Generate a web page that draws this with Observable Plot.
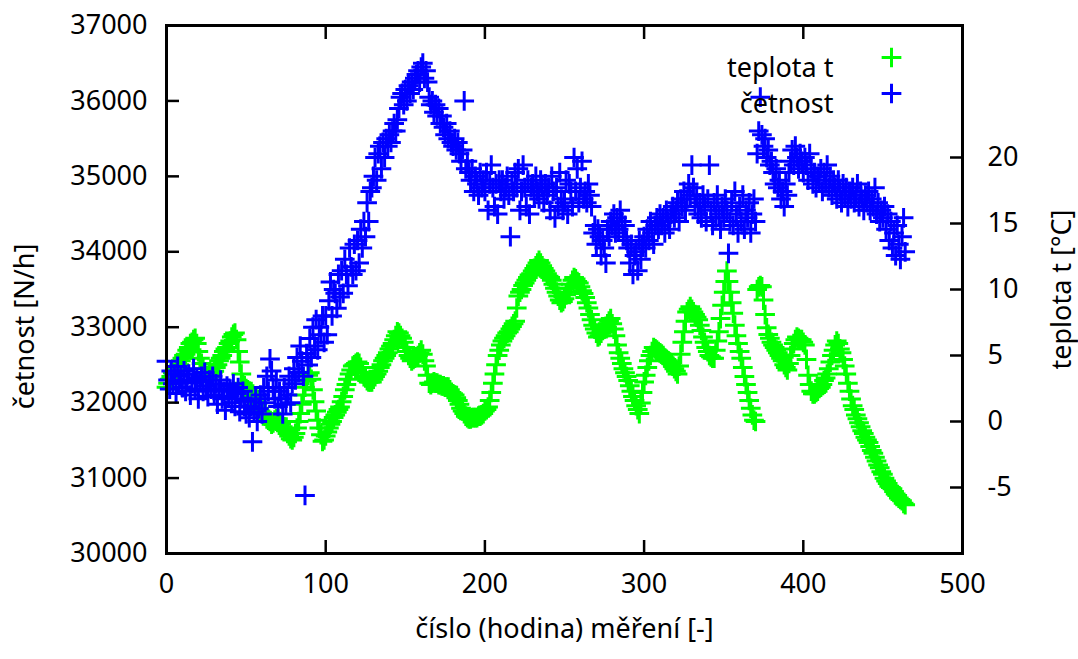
<!DOCTYPE html>
<html>
<head>
<meta charset="utf-8">
<script src="https://cdn.jsdelivr.net/npm/d3@7"></script>
<script src="https://cdn.jsdelivr.net/npm/@observablehq/plot@0.6"></script>
<style>
  html, body { margin: 0; padding: 0; background: #fff; }
  #chart { width: 1078px; height: 659px; }
</style>
</head>
<body>
<div id="chart"></div>
<script>
// --- Data, one value per hour 0..464 ---
const teplota = [
  2.6, 2.9, 3.2, 3.4, 3.7, 3.5, 3.9, 4.1, 4.3, 4.6,
  4.8, 5.0, 5.1, 5.4, 5.6, 5.9, 6.0, 6.2, 6.3, 5.9,
  5.3, 4.8, 4.4, 4.0, 3.7, 3.5, 3.3, 3.4, 3.6, 3.7,
  3.8, 4.1, 4.3, 4.6, 4.8, 5.0, 5.3, 5.5, 5.6, 5.9,
  6.1, 6.4, 6.6, 6.7, 6.2, 5.3, 4.5, 3.6, 2.9, 2.7,
  2.5, 2.4, 2.3, 2.1, 1.9, 1.7, 1.5, 1.3, 1.0, 0.8,
  0.7, 0.6, 0.4, 0.2, 0.1, 0.0, -0.2, -0.1, 0.1, 0.2,
  0.2, 0.0, -0.2, -0.4, -0.6, -0.7, -0.9, -1.1, -1.3, -1.4,
  -1.2, -0.9, -0.5, 0.0, 0.6, 1.3, 2.0, 2.6, 3.1, 3.5,
  3.7, 3.2, 2.4, 1.5, 0.8, 0.1, -0.5, -1.0, -1.5, -1.4,
  -1.1, -0.8, -0.5, -0.2, 0.0, 0.3, 0.5, 0.7, 0.9, 1.1,
  1.5, 1.9, 2.4, 2.8, 3.2, 3.6, 3.9, 4.2, 4.3, 4.4,
  4.5, 4.4, 4.1, 3.7, 3.4, 3.3, 3.1, 3.0, 3.0, 3.0,
  3.2, 3.4, 3.6, 3.8, 4.1, 4.3, 4.6, 4.8, 5.0, 5.2,
  5.5, 5.7, 5.9, 6.2, 6.5, 6.8, 6.7, 6.5, 6.3, 6.0,
  5.6, 5.3, 5.0, 4.8, 4.6, 4.7, 4.8, 4.9, 5.0, 5.2,
  5.4, 5.1, 4.6, 4.2, 3.5, 2.9, 2.8, 2.9, 3.0, 2.9,
  2.9, 2.8, 2.8, 2.7, 2.7, 2.6, 2.6, 2.6, 2.4, 2.2,
  2.1, 2.0, 1.8, 1.6, 1.3, 1.0, 0.8, 0.6, 0.4, 0.3,
  0.2, 0.2, 0.3, 0.3, 0.3, 0.3, 0.4, 0.4, 0.5, 0.6,
  0.8, 0.9, 1.1, 1.6, 2.2, 2.9, 3.6, 4.3, 5.0, 5.4,
  5.8, 6.1, 6.3, 6.5, 6.7, 6.8, 7.0, 7.2, 7.4, 7.6,
  8.6, 9.5, 9.8, 10.0, 10.3, 10.5, 10.7, 10.9, 11.1, 11.2,
  11.4, 11.6, 11.8, 12.0, 12.2, 12.0, 11.8, 11.6, 11.4, 11.2,
  11.0, 10.9, 10.7, 10.4, 10.1, 9.8, 9.5, 9.2, 9.0, 9.1,
  9.3, 9.6, 9.8, 10.1, 10.4, 10.7, 10.9, 10.8, 10.6, 10.5,
  10.2, 9.9, 9.7, 9.4, 9.0, 8.6, 8.1, 7.7, 7.3, 7.0,
  6.7, 6.4, 6.5, 6.7, 6.9, 7.0, 7.2, 7.4, 7.6, 7.8,
  7.4, 7.0, 6.5, 5.8, 5.2, 4.8, 4.4, 4.0, 3.7, 3.4,
  3.1, 2.7, 2.3, 1.9, 1.6, 1.2, 0.9, 0.6, 1.4, 2.2,
  3.0, 3.5, 4.1, 4.6, 5.0, 5.3, 5.6, 5.5, 5.4, 5.3,
  5.2, 5.1, 5.0, 4.8, 4.7, 4.6, 4.5, 4.4, 4.2, 4.0,
  3.8, 3.6, 4.2, 5.1, 6.0, 6.8, 7.6, 8.3, 8.5, 8.7,
  8.5, 8.3, 8.1, 7.9, 7.7, 7.3, 6.9, 6.4, 6.0, 5.6,
  5.3, 5.0, 4.9, 4.8, 4.8, 5.4, 6.1, 6.8, 7.8, 8.8,
  9.8, 10.6, 11.4, 10.6, 9.8, 9.0, 8.2, 7.3, 6.5, 5.9,
  5.3, 4.8, 4.1, 3.4, 2.8, 2.2, 1.6, 1.0, 0.5, 0.1,
  0.0, 10.0, 10.2, 10.3, 10.2, 9.2, 8.1, 7.1, 6.6, 6.3,
  6.0, 5.8, 5.6, 5.4, 5.2, 5.0, 4.8, 4.6, 4.3, 4.1,
  3.9, 4.4, 5.0, 5.5, 5.9, 6.2, 6.4, 6.3, 6.2, 6.2,
  6.0, 5.8, 4.7, 3.5, 2.8, 2.3, 2.1, 2.1, 2.2, 2.3,
  2.5, 2.6, 2.8, 3.1, 3.3, 3.6, 4.0, 4.5, 5.0, 5.4,
  5.8, 6.1, 5.9, 5.5, 5.2, 4.7, 4.2, 3.6, 2.9, 2.3,
  1.7, 1.2, 0.9, 0.5, 0.2, -0.1, -0.4, -0.7, -0.9, -1.2,
  -1.4, -1.6, -1.9, -2.2, -2.4, -2.7, -3.0, -3.3, -3.5, -3.8,
  -4.0, -4.3, -4.5, -4.7, -4.9, -5.0, -5.1, -5.3, -5.5, -5.6,
  -5.8, -5.9, -6.0, -6.2, -6.3
];

const cetnost = [
  32550, 32300, 32180, 32420, 32250, 32380, 32120, 32480, 32280, 32350,
  32200, 32420, 32150, 32300, 32380, 32100, 32260, 32450, 32180, 32320,
  32050, 32280, 32350, 32150, 32400, 32220, 32080, 32300, 32180, 32350,
  32100, 32250, 31980, 32180, 32300, 32050, 32150, 31900, 32220, 32080,
  32180, 32000, 32250, 31950, 32120, 32200, 31880, 32050, 32150, 31950,
  31850, 32020, 31800, 31950, 31480, 31880, 32050, 31750, 31920, 32100,
  31850, 32200, 32000, 32350, 32150, 32580, 32420, 32200, 32050, 32300,
  31950, 32150, 32050, 31850, 32200, 31980, 32100, 32350, 32000, 32250,
  32450, 32300, 32600, 32400, 32750, 32550, 32350, 30770, 32650, 32500,
  32850, 32600, 33000, 32750, 33100, 32700, 33000, 32900, 33150, 32800,
  33150, 32900, 33350, 33600, 33150, 33500, 33450, 33250, 33700, 33400,
  33750, 33450, 33900, 33700, 33550, 34050, 33800, 33700, 34100, 33750,
  34150, 33850, 34300, 34050, 34400, 34200, 34650, 34400, 34800, 34850,
  35000, 35250, 34950, 35300, 35400, 35100, 35450, 35250, 35500, 35400,
  35550, 35450, 35600, 35700, 35600, 35750, 35900, 36050, 36100, 35950,
  36150, 36000, 36200, 36100, 36250, 36150, 36300, 36350, 36400, 36250,
  36450, 36500, 36300, 36400, 36250, 36050, 35950, 36000, 35850, 35950,
  35800, 35900, 35700, 35800, 35650, 35550, 35700, 35500, 35600, 35450,
  35400, 35500, 35350, 35450, 35300, 35200, 35350, 36000, 35100, 35200,
  35050, 34950, 35100, 34800, 35000, 34900, 34750, 35050, 34850, 34950,
  34800, 35050, 34550, 34900, 35150, 34850, 34600, 34900, 34500, 34950,
  34800, 34950, 34700, 34850, 35000, 34750, 34200, 34900, 34800, 35050,
  34850, 35100, 34550, 34800, 35150, 34850, 34600, 34950, 34500, 34850,
  34900, 34750, 35000, 34800, 34700, 34950, 34850, 34650, 34900, 34750,
  34850, 34550, 35000, 34800, 34450, 34850, 34600, 35050, 34700, 34550,
  34650, 34950, 34500, 34900, 34800, 34600, 35250, 34800, 35100, 34650,
  34850, 35200, 34700, 34800, 34650, 34900, 34750, 34600, 34250, 34350,
  34100, 34300, 34200, 33950, 34150, 34050, 33850, 34300, 34200, 34400,
  34350, 34500, 34250, 34450, 34300, 34550, 34400, 34200, 34350, 34150,
  34050, 33850, 34100, 33700, 33950, 34000, 33750, 34150, 33900, 34100,
  34200, 34050, 34300, 34150, 34400, 34250, 34100, 34350, 34450, 34300,
  34500, 34350, 34450, 34250, 34550, 34400, 34300, 34500, 34600, 34450,
  34550, 34650, 34400, 34700, 34600, 34800, 34550, 34700, 34900, 34750,
  35150, 34850, 34600, 34750, 34500, 34650, 34450, 34750, 34600, 34400,
  34700, 35150, 34550, 34350, 34650, 34450, 34750, 34500, 34300, 34600,
  34450, 34700, 34550, 33980, 34400, 34650, 34350, 34800, 34500, 34250,
  34600, 34400, 34750, 34300, 34550, 34450, 34650, 34250, 34500, 34700,
  34400, 35300, 35600, 36050, 35550, 35400, 35500, 35250, 35350, 35150,
  35200, 35050, 34900, 35100, 34850, 34950, 34700, 34800, 34600, 34900,
  34750, 35050, 35200, 35350, 35150, 35400, 35250, 35100, 35300, 35200,
  35050, 35250, 35150, 34950, 35300, 35100, 34900, 35050, 34850, 35000,
  34950, 35100, 34800, 35050, 34900, 35150, 34850, 35000, 34750, 34950,
  34850, 34700, 34950, 34800, 34650, 34900, 34750, 34850, 34600, 34800,
  34700, 34850, 34650, 34750, 34900, 34600, 34800, 34700, 34550, 34750,
  34650, 34800, 34550, 34700, 34600, 34850, 34500, 34650, 34400, 34550,
  34450, 34600, 34300, 34500, 34150, 34400, 34050, 34250, 33950, 34350,
  34100, 33900, 34200, 34450, 34000
];

const xTicks = [0, 100, 200, 300, 400, 500];
const yTicks = [30000, 31000, 32000, 33000, 34000, 35000, 36000, 37000];
const y2Ticks = [-5, 0, 5, 10, 15, 20];
const xTitle = "číslo (hodina) měření [-]";
const yTitle = "četnost [N/h]";
const y2Title = "teplota t [°C]";
const seriesNames = ["teplota t", "četnost"];
const seriesColors = ["#00ff00", "#0000ff"];

// --- secondary axis mapping: temperature domain [-10, 30] onto count domain [30000, 37000]
const yDomain = [30000, 37000];
const y2Domain = [-10, 30];
const toY = t => yDomain[0] + (t - y2Domain[0]) * (yDomain[1] - yDomain[0]) / (y2Domain[1] - y2Domain[0]);
const fromY = v => (v - yDomain[0]) * (y2Domain[1] - y2Domain[0]) / (yDomain[1] - yDomain[0]) + y2Domain[0];

const tData = teplota.map((t, i) => ({h: i, v: toY(t)}));
const cData = cetnost.map((c, i) => ({h: i, v: c}));

const symR = 6.4;
const symW = 3;
const tickLen = -13;

const chart = Plot.plot({
  width: 1078,
  height: 659,
  marginLeft: 166,
  marginRight: 116,
  marginTop: 25,
  marginBottom: 106,
  x: {domain: [0, 500]},
  y: {domain: yDomain},
  style: {fontFamily: "'Noto Sans', sans-serif", fontSize: "27px", color: "#000", background: "#fff", overflow: "visible"},
  marks: [
    Plot.dot(tData, {x: "h", y: "v", symbol: "plus", r: symR, stroke: seriesColors[0], strokeWidth: symW}),
    Plot.dot(cData, {x: "h", y: "v", symbol: "plus", r: symR, stroke: seriesColors[1], strokeWidth: symW}),
    Plot.frame({stroke: "#000", strokeWidth: 3}),
    Plot.axisX(xTicks, {anchor: "bottom", tickSize: tickLen, tickPadding: 33, strokeWidth: 2.5, label: null, tickFormat: d => String(d)}),
    Plot.axisX(xTicks, {anchor: "top", tickSize: tickLen, tickPadding: 0, strokeWidth: 2.5, label: null, tickFormat: () => ""}),
    Plot.axisY(yTicks, {anchor: "left", tickSize: tickLen, tickPadding: 32, strokeWidth: 2.5, label: null, tickFormat: d => String(d)}),
    Plot.axisY(y2Ticks.map(toY), {anchor: "right", tickSize: tickLen, tickPadding: 38, strokeWidth: 2.5, label: null,
      tickFormat: v => String(Math.round(fromY(v)))}),
    Plot.text([xTitle], {frameAnchor: "bottom", dy: 84, textAnchor: "middle", text: d => d, fontSize: 27}),
    Plot.text([yTitle], {frameAnchor: "left", dx: -141, dy: 37, rotate: -90, textAnchor: "middle", text: d => d, fontSize: 27}),
    Plot.text([y2Title], {frameAnchor: "right", dx: 100, dy: 0, rotate: -90, textAnchor: "middle", text: d => d, fontSize: 27}),
    // legend
    Plot.text([seriesNames[0]], {frameAnchor: "top-right", dx: -129, dy: 32, textAnchor: "end", text: d => d, fontSize: 27}),
    Plot.text([seriesNames[1]], {frameAnchor: "top-right", dx: -129, dy: 68, textAnchor: "end", text: d => d, fontSize: 27}),
    Plot.dot([seriesNames[0]], {frameAnchor: "top-right", dx: -71, dy: 32, symbol: "plus", r: symR, stroke: seriesColors[0], strokeWidth: symW}),
    Plot.dot([seriesNames[1]], {frameAnchor: "top-right", dx: -71, dy: 68, symbol: "plus", r: symR, stroke: seriesColors[1], strokeWidth: symW})
  ]
});
document.getElementById("chart").appendChild(chart);
</script>
</body>
</html>
